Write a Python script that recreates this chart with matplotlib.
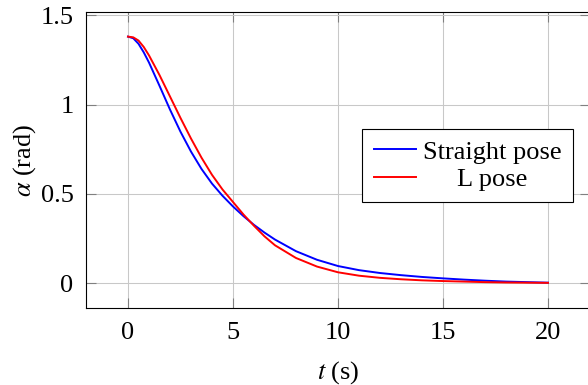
import matplotlib
matplotlib.use("Agg")
import matplotlib.pyplot as plt

# data
t_vals = [0, 0.25, 0.5, 0.75, 1, 1.5, 2, 2.5, 3, 3.5, 4, 4.5, 5, 5.5, 6, 6.5, 7,
          8, 9, 10, 11, 12, 13, 14, 15, 16, 17, 18, 19, 20]
straight_pose = [1.380, 1.371, 1.340, 1.292, 1.235, 1.105, 0.972, 0.848, 0.737, 0.640,
                 0.558, 0.490, 0.430, 0.376, 0.327, 0.284, 0.245,
                 0.180, 0.132, 0.097, 0.074, 0.058, 0.046, 0.036, 0.028, 0.021,
                 0.015, 0.010, 0.007, 0.004]
l_pose = [1.380, 1.376, 1.358, 1.322, 1.275, 1.165, 1.045, 0.925, 0.810, 0.703,
          0.607, 0.525, 0.455, 0.385, 0.322, 0.263, 0.213,
          0.142, 0.094, 0.062, 0.043, 0.031, 0.023, 0.017, 0.013, 0.010,
          0.007, 0.005, 0.004, 0.003]
series_labels = ["Straight pose", "L pose"]
x_ticks = [0, 5, 10, 15, 20]
y_ticks = [0, 0.5, 1, 1.5]
y_tick_labels = ["0", "0.5", "1", "1.5"]

plt.rcParams['font.family'] = ['Liberation Serif', 'DejaVu Serif']
plt.rcParams['mathtext.fontset'] = 'stix'
plt.rcParams['font.size'] = 19

fig = plt.figure(figsize=(5.88, 3.85), dpi=100)
ax = fig.add_axes([86 / 588, 77 / 385, 504 / 588, 296 / 385])

ax.plot(t_vals, straight_pose, color=(0, 0, 1), lw=1.4, label=series_labels[0])
ax.plot(t_vals, l_pose, color=(1, 0, 0), lw=1.4, label=series_labels[1])

ax.set_xlim(-2, 22)
ax.set_ylim(-0.1377, 1.5177)
ax.set_xticks(x_ticks)
ax.set_yticks(y_ticks)
ax.set_yticklabels(y_tick_labels)

ax.grid(True, color='#c8c8c8', lw=0.75)
ax.set_axisbelow(True)
ax.tick_params(direction='in', length=7, width=0.8, color='#808080',
               top=True, right=True, labelsize=19)
ax.tick_params(axis='x', pad=10)
ax.tick_params(axis='y', pad=9)
for sp in ax.spines.values():
    sp.set_linewidth(0.8)
    sp.set_color('black')

ax.set_xlabel(r'$t$ (s)', fontsize=19, labelpad=11)
ax.set_ylabel(r'$\alpha$ (rad)', fontsize=19, labelpad=2)

leg = ax.legend(loc='center', bbox_to_anchor=(0.757, 0.481), fontsize=19,
                frameon=True, fancybox=False, framealpha=1, edgecolor='black',
                handlelength=1.62, handletextpad=0.25, borderpad=0.42,
                labelspacing=0.16, borderaxespad=0)
leg.get_frame().set_linewidth(0.8)

# pgfplots centres the legend entries, shift the shorter one
fig.canvas.draw()
texts = leg.get_texts()
w0 = texts[0].get_window_extent().width
w1 = texts[1].get_window_extent().width
texts[1].set_x((w0 - w1) / 2)

fig.savefig('out.png', dpi=100)
